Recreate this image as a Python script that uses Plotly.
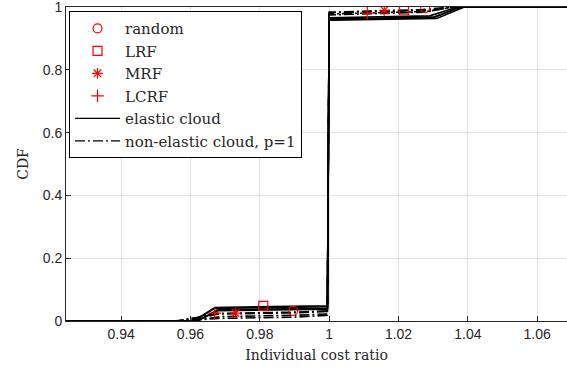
import plotly.graph_objects as go

# ---- data ----
# elastic cloud CDFs (solid)
el_x = [
    [0.924, 0.961, 0.967, 0.990, 0.9995, 1.0, 1.030, 1.038, 1.069],
    [0.924, 0.962, 0.968, 0.990, 0.9995, 1.0, 1.031, 1.039, 1.069],
    [0.924, 0.961, 0.967, 0.990, 0.9995, 1.0, 1.029, 1.037, 1.069],
    [0.924, 0.962, 0.968, 0.990, 0.9995, 1.0, 1.030, 1.038, 1.069],
]
el_y = [
    [0, 0, 0.040, 0.042, 0.045, 0.962, 0.968, 1.0, 1.0],
    [0, 0, 0.036, 0.038, 0.040, 0.958, 0.964, 1.0, 1.0],
    [0, 0, 0.043, 0.045, 0.048, 0.966, 0.972, 1.0, 1.0],
    [0, 0, 0.033, 0.035, 0.037, 0.960, 0.966, 1.0, 1.0],
]
# non-elastic cloud, p=1 CDFs (dash-dot)
ne_x = [
    [0.924, 0.955, 0.963, 0.968, 0.990, 0.9995, 1.0, 1.028, 1.036, 1.069],
    [0.924, 0.956, 0.963, 0.968, 0.990, 0.9995, 1.0, 1.029, 1.036, 1.069],
    [0.924, 0.957, 0.964, 0.969, 0.990, 0.9995, 1.0, 1.028, 1.035, 1.069],
    [0.924, 0.956, 0.962, 0.967, 0.990, 0.9995, 1.0, 1.027, 1.035, 1.069],
]
ne_y = [
    [0, 0, 0.004, 0.008, 0.012, 0.018, 0.978, 0.986, 1.0, 1.0],
    [0, 0, 0.010, 0.022, 0.026, 0.030, 0.982, 0.990, 1.0, 1.0],
    [0, 0, 0.006, 0.014, 0.018, 0.022, 0.975, 0.984, 1.0, 1.0],
    [0, 0, 0.012, 0.024, 0.028, 0.032, 0.984, 0.992, 1.0, 1.0],
]

methods = ["random", "LRF", "MRF", "LCRF"]
symbols = ["circle-open", "square-open", "asterisk-open", "cross-thin-open"]
mark_x = [[0.9896, 1.0277], [0.981, 1.0216], [0.973, 1.0159], [0.967, 1.011]]
mark_y = [[0.032, 0.997], [0.048, 0.990], [0.025, 0.990], [0.025, 0.981]]

x_ticks = [0.94, 0.96, 0.98, 1.0, 1.02, 1.04, 1.06]
x_labels = ["0.94", "0.96", "0.98", "1", "1.02", "1.04", "1.06"]
y_ticks = [0, 0.2, 0.4, 0.6, 0.8, 1]
y_labels = ["0", "0.2", "0.4", "0.6", "0.8", "1"]

RED = "#ff0000"
SERIF = "DejaVu Serif"
SANS = "Liberation Sans"
fig = go.Figure()

for i in range(4):
    fig.add_trace(go.Scatter(x=el_x[i], y=el_y[i], mode="lines",
                             line=dict(color="black", width=1.6), showlegend=False,
                             hoverinfo="skip"))
    fig.add_trace(go.Scatter(x=ne_x[i], y=ne_y[i], mode="lines",
                             line=dict(color="black", width=1.6, dash="10px,3px,2px,3px"),
                             showlegend=False, hoverinfo="skip"))

for i, m in enumerate(methods):
    fig.add_trace(go.Scatter(x=mark_x[i], y=mark_y[i], mode="markers", name=m,
                             marker=dict(symbol=symbols[i], color=RED, size=9,
                                         line=dict(color=RED, width=1.2))))

fig.add_trace(go.Scatter(x=[None], y=[None], mode="lines", name="elastic cloud",
                         line=dict(color="black", width=1.2)))
fig.add_trace(go.Scatter(x=[None], y=[None], mode="lines", name="non-elastic cloud, p=1",
                         line=dict(color="black", width=1.2, dash="10px,3px,2px,3px")))

axis_common = dict(showline=True, linecolor="#262626", linewidth=1, mirror=True,
                   ticks="inside", ticklen=5, tickcolor="#262626", automargin=False,
                   ticklabeloverflow="allow",
                   showgrid=True, gridcolor="#e3e3e3", gridwidth=1, zeroline=False,
                   tickfont=dict(family=SANS, size=14, color="#262626"))

fig.update_layout(
    width=567, height=370,
    margin=dict(l=66, r=0, t=7, b=49),
    plot_bgcolor="white", paper_bgcolor="white",
    xaxis=dict(range=[0.9241, 1.0686], tickvals=x_ticks, ticktext=x_labels,
               title=dict(text="Individual cost ratio", standoff=9,
                          font=dict(family=SERIF, size=14, color="#262626")),
               **axis_common),
    yaxis=dict(range=[-0.0002, 1.0003], tickvals=y_ticks, ticktext=y_labels,
               title=dict(text="CDF", standoff=10,
                          font=dict(family=SERIF, size=14, color="#262626")),
               **axis_common),
    legend=dict(x=0.006, y=0.987, xanchor="left", yanchor="top",
                bgcolor="white", bordercolor="black", borderwidth=1,
                font=dict(family=SERIF, size=15, color="#262626"),
                itemwidth=45, tracegroupgap=0),
    showlegend=True,
)

fig.write_html("out.html", config={"displayModeBar": False},
               post_script="document.body.style.margin='0';")
